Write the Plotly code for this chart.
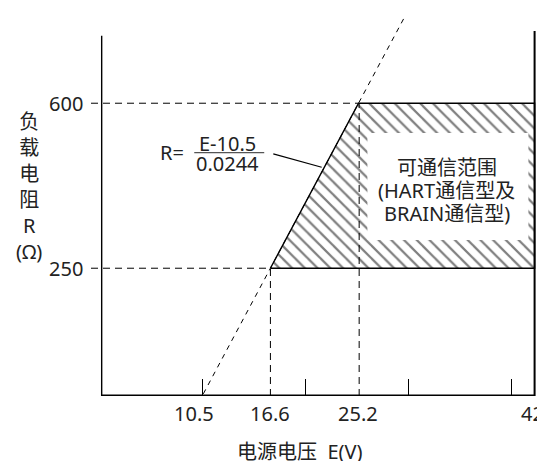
import plotly.graph_objects as go

# ---- data ----
E_OFFSET = 10.5          # R = (E - 10.5) / 0.0244
E_SLOPE = 0.0244
R_LOW = 250
R_HIGH = 600
E_LOW = 16.6
E_HIGH = 25.2
E_MAX = 42
X_LABELS = [10.5, 16.6, 25.2, 42]
X_LABEL_TEXT = ["10.5", "16.6", "25.2", "42"]
X_MINOR_TICKS = [10, 20, 30, 40]
Y_LABELS = [250, 600]
Y_LABEL_TEXT = ["250", "600"]
REGION_TEXT = ["可通信范围", "(HART通信型及", "BRAIN通信型)"]

# ---- frame / layout geometry (axis coordinates) ----
X_RANGE = [-0.785, 42.53]
Y_RANGE = [-21, 785]
X_AXIS_LEFT = 0.25
X_FRAME_RIGHT = 42.2
Y_AXIS_TOP = 743
Y_FRAME_RIGHT_TOP = 753

FONT = "Noto Sans, Noto Sans CJK SC, sans-serif"
TXT = "#222222"

# page body has an 8px default margin
PAGE_PAD = 8


def e_of_r(r):
    return E_OFFSET + E_SLOPE * r


e600 = e_of_r(R_HIGH)
e250 = e_of_r(R_LOW)

fig = go.Figure()

# hatched communication region
fig.add_trace(go.Scatter(
    x=[e250, e600, X_FRAME_RIGHT, X_FRAME_RIGHT, e250],
    y=[R_LOW, R_HIGH, R_HIGH, R_LOW, R_LOW],
    mode="lines", fill="toself", fillcolor="white",
    fillpattern=dict(shape="\\", size=9, solidity=0.25, fgcolor="black", bgcolor="white"),
    line=dict(color="black", width=1.4), hoverinfo="skip", showlegend=False))

# white box for the label
fig.add_trace(go.Scatter(
    x=[26.0, 41.6, 41.6, 26.0, 26.0],
    y=[310, 310, 537, 537, 310],
    mode="lines", fill="toself", fillcolor="white",
    line=dict(width=0, color="white"), hoverinfo="skip", showlegend=False))

dash_long = "7px,5px"
# horizontal dashed guides
fig.add_trace(go.Scatter(x=[X_RANGE[0], e600], y=[R_HIGH, R_HIGH], mode="lines",
                         line=dict(color="black", width=1, dash=dash_long), showlegend=False, hoverinfo="skip"))
fig.add_trace(go.Scatter(x=[X_RANGE[0], e250], y=[R_LOW, R_LOW], mode="lines",
                         line=dict(color="black", width=1, dash=dash_long), showlegend=False, hoverinfo="skip"))
# vertical dashed guides
fig.add_trace(go.Scatter(x=[E_LOW, E_LOW], y=[Y_RANGE[0], R_LOW], mode="lines",
                         line=dict(color="black", width=1, dash=dash_long), showlegend=False, hoverinfo="skip"))
fig.add_trace(go.Scatter(x=[E_HIGH, E_HIGH], y=[Y_RANGE[0], R_HIGH], mode="lines",
                         line=dict(color="black", width=1, dash=dash_long), showlegend=False, hoverinfo="skip"))

# sloped dashed line R = (E-10.5)/0.0244
e_line = [10.1, 29.6]
fig.add_trace(go.Scatter(x=e_line, y=[(e - E_OFFSET) / E_SLOPE for e in e_line], mode="lines",
                         line=dict(color="black", width=1, dash="5px,5px"), showlegend=False, hoverinfo="skip"))

# frame lines
fig.add_trace(go.Scatter(x=[X_AXIS_LEFT, X_AXIS_LEFT], y=[Y_RANGE[0], Y_AXIS_TOP], mode="lines",
                         line=dict(color="black", width=1.4), showlegend=False, hoverinfo="skip"))
fig.add_trace(go.Scatter(x=[X_AXIS_LEFT, X_FRAME_RIGHT], y=[Y_RANGE[0], Y_RANGE[0]], mode="lines",
                         line=dict(color="black", width=2.8), showlegend=False, hoverinfo="skip"))
fig.add_trace(go.Scatter(x=[X_FRAME_RIGHT, X_FRAME_RIGHT], y=[Y_RANGE[0], Y_FRAME_RIGHT_TOP], mode="lines",
                         line=dict(color="black", width=2), showlegend=False, hoverinfo="skip"))

# formula: fraction bar and leader line
fig.add_trace(go.Scatter(x=[9.22, 16.0], y=[495, 495], mode="lines",
                         line=dict(color="#555555", width=1.2), showlegend=False, hoverinfo="skip"))
fig.add_trace(go.Scatter(x=[16.88, 21.57], y=[492.5, 464.2], mode="lines",
                         line=dict(color="black", width=1.2), showlegend=False, hoverinfo="skip"))

annotations = []
ann_font = dict(family=FONT, size=20, color=TXT)
annotations.append(dict(x=7.11, y=495, xref="x", yref="y", text="R=", showarrow=False, font=ann_font))
annotations.append(dict(x=12.49, y=515, xref="x", yref="y", text="E-10.5", showarrow=False, font=ann_font))
annotations.append(dict(x=12.45, y=473, xref="x", yref="y", text="0.0244", showarrow=False, font=ann_font))

# region label, one line per annotation
for t, r in zip(REGION_TEXT, [464.2, 414, 366.7]):
    annotations.append(dict(x=33.68, y=r, xref="x", yref="y", text=t, showarrow=False,
                            xanchor="center", yanchor="middle", font=ann_font))

# x labels
x_shift = {10.5: -13, 25.2: -1}
for v, t in zip(X_LABELS, X_LABEL_TEXT):
    annotations.append(dict(x=v, y=Y_RANGE[0], xref="x", yref="y", text=t, showarrow=False,
                            xanchor="center", yanchor="middle", yshift=-17,
                            xshift=x_shift.get(v, 0), font=ann_font))

# y labels
for v, t in zip(Y_LABELS, Y_LABEL_TEXT):
    annotations.append(dict(x=0, y=v, xref="paper", yref="y", text=t, showarrow=False,
                            xanchor="right", yanchor="middle", xshift=-6, font=ann_font))

# axis titles
annotations.append(dict(x=-0.1395, y=0.5508, xref="paper", yref="paper",
                        text="负<br>载<br>电<br>阻<br>R<br>(Ω)", showarrow=False,
                        xanchor="center", yanchor="middle",
                        font=ann_font, align="center"))
annotations.append(dict(x=0.4676, y=-0.1466, xref="paper", yref="paper",
                        text="电源电压  E(V)", showarrow=False,
                        xanchor="center", yanchor="middle", font=ann_font))

fig.update_layout(
    width=545 - PAGE_PAD, height=461 - PAGE_PAD,
    margin=dict(l=91 - PAGE_PAD, r=7, t=16 - PAGE_PAD, b=65),
    paper_bgcolor="white", plot_bgcolor="white",
    showlegend=False,
    annotations=annotations,
    xaxis=dict(range=X_RANGE, showgrid=False, zeroline=False, showline=False,
               tickvals=[], showticklabels=False,
               minor=dict(tickvals=X_MINOR_TICKS, ticks="inside", ticklen=17,
                          tickwidth=1.3, tickcolor="black", showgrid=False)),
    yaxis=dict(range=Y_RANGE, showgrid=False, zeroline=False, showline=False,
               showticklabels=False, ticks=""),
)

fig.write_html("out.html")
